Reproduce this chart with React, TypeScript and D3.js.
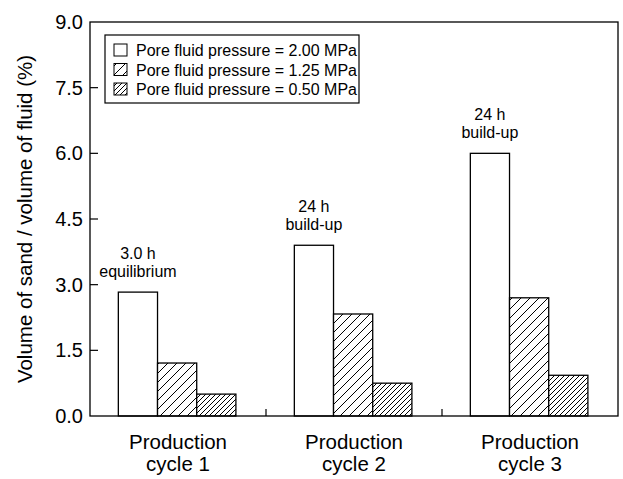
import React from "react";
import * as d3 from "d3";

// Production cycles along the x axis
const categories = ["Production cycle 1", "Production cycle 2", "Production cycle 3"];
const categoryLines = [
  ["Production", "cycle 1"],
  ["Production", "cycle 2"],
  ["Production", "cycle 3"],
];

// Sand volume fraction (%) for each pore fluid pressure
const seriesNames = [
  "Pore fluid pressure = 2.00 MPa",
  "Pore fluid pressure = 1.25 MPa",
  "Pore fluid pressure = 0.50 MPa",
];
const p200 = [2.83, 3.9, 6.0];
const p125 = [1.21, 2.33, 2.7];
const p050 = [0.5, 0.75, 0.93];
const seriesValues = [p200, p125, p050];

// Notes above the first bar of each cycle
const notes = [
  ["3.0 h", "equilibrium"],
  ["24 h", "build-up"],
  ["24 h", "build-up"],
];

const yTicks = [0, 1.5, 3.0, 4.5, 6.0, 7.5, 9.0];

const W = 623;
const H = 479;
const left = 90;
const right = 618;
const top = 22;
const bottom = 416;
const FONT = "Arial, 'Liberation Sans', Helvetica, sans-serif";

const fills = ["#fff", "url(#hatchWide)", "url(#hatchDense)"];

export default function App() {
  const x = d3.scaleBand<string>().domain(categories).range([left, right]).padding(0);
  const groupW = x.bandwidth();
  const inner = d3
    .scaleBand<number>()
    .domain([0, 1, 2])
    .range([groupW * 0.161, groupW * 0.829])
    .padding(0);
  const y = d3.scaleLinear().domain([0, 9]).range([bottom, top]);

  return (
    <svg
      width={W}
      height={H}
      style={{ position: "absolute", left: 0, top: 0, background: "#fff" }}
      fontFamily={FONT}
    >
      <defs>
        <pattern id="hatchWide" patternUnits="userSpaceOnUse" width={9} height={9}>
          <rect width={9} height={9} fill="#fff" />
          <path d="M-1,1 l2,-2 M0,9 l9,-9 M8,10 l2,-2" stroke="#000" strokeWidth={1} />
        </pattern>
        <pattern id="hatchDense" patternUnits="userSpaceOnUse" width={5} height={5}>
          <rect width={5} height={5} fill="#fff" />
          <path d="M-1,1 l2,-2 M0,5 l5,-5 M4,6 l2,-2" stroke="#000" strokeWidth={1} />
        </pattern>
      </defs>

      {/* bars */}
      {categories.map((c, ci) =>
        seriesValues.map((vals, si) => {
          const bx = (x(c) as number) + (inner(si) as number);
          const by = y(vals[ci]);
          return (
            <rect
              key={`${ci}-${si}`}
              x={bx}
              y={by}
              width={inner.bandwidth()}
              height={bottom - by}
              fill={fills[si]}
              stroke="#000"
              strokeWidth={1.3}
            />
          );
        })
      )}

      {/* notes above the 2.00 MPa bars */}
      {categories.map((c, ci) => {
        const cx = (x(c) as number) + (inner(0) as number) + inner.bandwidth() / 2;
        const by = y(seriesValues[0][ci]);
        return (
          <text key={`n${ci}`} textAnchor="middle" fontSize={16} fill="#000">
            <tspan x={cx} y={by - 33}>{notes[ci][0]}</tspan>
            <tspan x={cx} y={by - 15}>{notes[ci][1]}</tspan>
          </text>
        );
      })}

      {/* frame */}
      <rect
        x={left}
        y={top}
        width={right - left}
        height={bottom - top}
        fill="none"
        stroke="#000"
        strokeWidth={1.3}
      />

      {/* y ticks and labels */}
      {yTicks.map((t) => (
        <g key={`t${t}`}>
          {t > 0 && t < 9 && (
            <line x1={left} x2={left + 8} y1={y(t)} y2={y(t)} stroke="#000" strokeWidth={1.2} />
          )}
          <text x={left - 7} y={y(t) + 7} textAnchor="end" fontSize={20} fill="#000">
            {t.toFixed(1)}
          </text>
        </g>
      ))}

      {/* separators between cycles */}
      {categories.slice(1).map((c) => (
        <line
          key={`s${c}`}
          x1={x(c) as number}
          x2={x(c) as number}
          y1={bottom}
          y2={bottom - 7}
          stroke="#000"
          strokeWidth={1.2}
        />
      ))}

      {/* category labels */}
      {categories.map((c, ci) => {
        const cx = (x(c) as number) + groupW / 2;
        return (
          <text key={`c${ci}`} textAnchor="middle" fontSize={20.5} fill="#000">
            <tspan x={cx} y={449}>{categoryLines[ci][0]}</tspan>
            <tspan x={cx} y={471}>{categoryLines[ci][1]}</tspan>
          </text>
        );
      })}

      {/* y axis title */}
      <text
        transform={`translate(32,${(top + bottom) / 2}) rotate(-90)`}
        textAnchor="middle"
        fontSize={20.5}
        fill="#000"
      >
        Volume of sand / volume of fluid (%)
      </text>

      {/* legend */}
      <rect x={105} y={35} width={254} height={68} fill="#fff" stroke="#000" strokeWidth={1.2} />
      {seriesNames.map((s, i) => (
        <g key={`l${i}`}>
          <rect
            x={114}
            y={44 + i * 19.5}
            width={13}
            height={12}
            fill={fills[i]}
            stroke="#000"
            strokeWidth={1}
          />
          <text x={136} y={56 + i * 19.5} fontSize={16} fill="#000">
            {s}
          </text>
        </g>
      ))}
    </svg>
  );
}
